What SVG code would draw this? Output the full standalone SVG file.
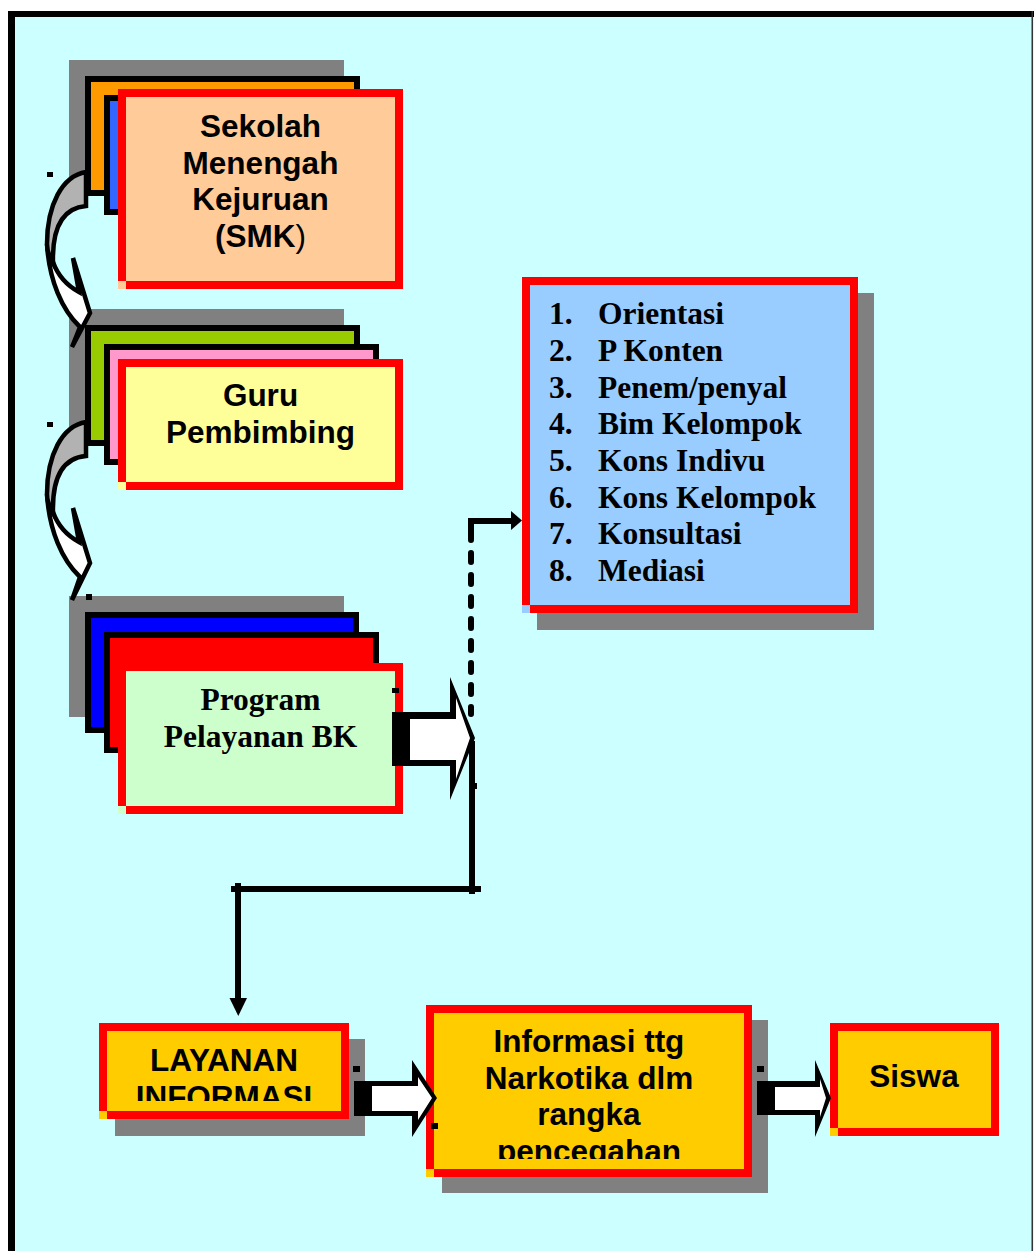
<svg xmlns="http://www.w3.org/2000/svg" width="1034" height="1251" viewBox="0 0 1034 1251">
<defs>
<style>
.bg{fill:#CCFFFF}
.blk{fill:#000}
.shadow{fill:#808080}
.back{stroke:#000;stroke-width:6}
.red{fill:#FF0000}
.ta{font-family:"Liberation Sans",Arial,sans-serif;font-weight:bold;font-size:31.5px;text-anchor:middle;fill:#000}
.tt{font-family:"Liberation Serif","Times New Roman",serif;font-weight:bold;font-size:31.5px;fill:#000}
.cg{fill:#B2B2B2;stroke:#000;stroke-width:4.5;stroke-linejoin:miter}
.cw{fill:#FFFFFF;stroke:#000;stroke-width:4.5;stroke-linejoin:miter}
.ln{stroke:#000;stroke-width:6;fill:none}
.dash{stroke:#000;stroke-width:6;fill:none;stroke-dasharray:9 13;stroke-linecap:round}
.white{fill:#FFFFFF}
</style>
<clipPath id="clipLay"><rect x="99" y="1023" width="250" height="78"/></clipPath>
<clipPath id="clipInf"><rect x="426" y="1005" width="326" height="154"/></clipPath>
</defs>

<g id="frame">
<rect class="bg" x="8" y="11" width="1026" height="1240"/>
<rect class="blk" x="8" y="11" width="1026" height="6"/>
<rect class="blk" x="8" y="11" width="7" height="1240"/>
<rect fill="#333" x="1031.5" y="11" width="1.5" height="1240"/>
</g>

<g id="smk">
<rect class="shadow" x="69" y="60" width="275" height="121"/>
<rect class="back" fill="#FF9900" x="88" y="79" width="269" height="114"/>
<rect class="back" fill="#3366FF" x="107" y="98" width="269" height="114"/>
<rect class="red" x="118" y="89" width="285" height="200"/>
<rect fill="#FFCC99" x="126" y="97" width="269" height="184"/>
<rect fill="#FFCC99" x="118" y="281" width="8" height="8"/>
<text class="ta" x="260.5" y="137">Sekolah</text>
<text class="ta" x="260.5" y="173.7">Menengah</text>
<text class="ta" x="260.5" y="210.3">Kejuruan</text>
<text class="ta" x="260.5" y="247">(SMK<tspan font-weight="normal">)</tspan></text>
</g>

<g id="guru">
<rect class="shadow" x="69" y="309" width="275" height="121"/>
<rect class="back" fill="#99CC00" x="88" y="328" width="269" height="115"/>
<rect class="back" fill="#FF99CC" x="107" y="347" width="269" height="115"/>
<rect class="red" x="118" y="359" width="285" height="131"/>
<rect fill="#FFFF99" x="126" y="367" width="269" height="115"/>
<rect fill="#FFFF99" x="118" y="482" width="8" height="8"/>
<text class="ta" x="260.5" y="406">Guru</text>
<text class="ta" x="260.5" y="442.7">Pembimbing</text>
</g>

<g id="program">
<rect class="shadow" x="69" y="596" width="275" height="121"/>
<rect class="back" fill="#0000FF" x="88" y="615" width="268" height="115"/>
<rect class="back" fill="#FF0000" x="107" y="635" width="269" height="115"/>
<rect class="red" x="118" y="663" width="285" height="151"/>
<rect fill="#CCFFCC" x="126" y="671" width="269" height="135"/>
<rect fill="#CCFFCC" x="118" y="806" width="8" height="8"/>
<text class="tt" x="260.5" y="710" text-anchor="middle">Program</text>
<text class="tt" x="260.5" y="746.7" text-anchor="middle">Pelayanan BK</text>
</g>

<g id="list">
<rect class="shadow" x="537" y="293" width="337" height="337"/>
<rect class="red" x="522" y="277" width="336" height="336"/>
<rect fill="#99CCFF" x="530" y="285" width="320" height="320"/>
<rect fill="#99CCFF" x="522" y="605" width="8" height="8"/>
<g class="tt" font-size="32px">
<text x="549" y="324.3">1.</text><text x="598" y="324.3">Orientasi</text>
<text x="549" y="361">2.</text><text x="598" y="361">P Konten</text>
<text x="549" y="397.7">3.</text><text x="598" y="397.7">Penem/penyal</text>
<text x="549" y="434.3">4.</text><text x="598" y="434.3">Bim Kelompok</text>
<text x="549" y="471">5.</text><text x="598" y="471">Kons Indivu</text>
<text x="549" y="507.7">6.</text><text x="598" y="507.7">Kons Kelompok</text>
<text x="549" y="544.3">7.</text><text x="598" y="544.3">Konsultasi</text>
<text x="549" y="581">8.</text><text x="598" y="581">Mediasi</text>
</g>
</g>

<g id="layanan">
<rect class="shadow" x="115" y="1039" width="250" height="97"/>
<rect class="red" x="99" y="1023" width="250" height="96"/>
<rect fill="#FFCC00" x="107" y="1031" width="234" height="80"/>
<rect fill="#FFCC00" x="99" y="1111" width="8" height="8"/>
<g clip-path="url(#clipLay)">
<text class="ta" x="224" y="1071">LAYANAN</text>
<text class="ta" x="224" y="1107.5">INFORMASI</text>
</g>
</g>

<g id="informasi">
<rect class="shadow" x="442" y="1020" width="326" height="173"/>
<rect class="red" x="426" y="1005" width="326" height="172"/>
<rect fill="#FFCC00" x="434" y="1013" width="310" height="156"/>
<rect fill="#FFCC00" x="426" y="1169" width="8" height="8"/>
<g clip-path="url(#clipInf)">
<text class="ta" x="589" y="1052">Informasi ttg</text>
<text class="ta" x="589" y="1088.5">Narkotika dlm</text>
<text class="ta" x="589" y="1125">rangka</text>
<text class="ta" x="589" y="1161.5">pencegahan</text>
</g>
</g>

<g id="siswa">
<rect class="red" x="830" y="1023" width="169" height="113"/>
<rect fill="#FFCC00" x="838" y="1031" width="153" height="97"/>
<rect fill="#FFCC00" x="830" y="1128" width="8" height="8"/>
<text class="ta" x="914" y="1087">Siswa</text>
</g>

<g id="connectors">
<g id="curve1">
<path class="cw" d="M47,244 C49,280 62,310 80,327 L72,347 L90,313 L73,258 L79,292 C68,286 58,276 53,262 Z"/>
<path class="cg" d="M86,172 C62,176 47,205 47,244 C47,252 50,258 53,263 C52,228 62,208 86,206 Z"/>
</g>
<g id="curve2" transform="translate(0,250)">
<path class="cw" d="M47,244 C49,280 62,310 80,327 L72,350 L90,313 L73,258 L79,292 C68,286 58,276 53,262 Z"/>
<path class="cg" d="M86,172 C62,176 47,205 47,244 C47,252 50,258 53,263 C52,228 62,208 86,206 Z"/>
</g>
<g id="arrowProgram">
<polygon class="blk" points="392,712 450,712 450,677 475,738 450,800 450,766 392,766"/>
<polygon class="white" points="410,719 456,719 456,698 470,738 456,779 456,760 410,760"/>
</g>
<g id="elbowUp">
<path class="dash" d="M471,531 L471,714"/>
<path class="ln" d="M471,532 L471,521 L512,521" stroke-width="5"/>
<polygon class="blk" points="511,511 511,530 522,520.5"/>
</g>
<g id="elbowDown">
<path class="ln" d="M472,741 L472,894"/>
<path class="ln" d="M231,889 L481,889"/>
<path class="ln" d="M238,883 L238,1000"/>
<polygon class="blk" points="229.5,998 247,998 238.3,1016"/>
</g>
<g id="arrowLayanan">
<polygon class="blk" points="354,1081 412,1081 412,1060 437,1098 412,1137 412,1116 354,1116"/>
<polygon class="white" points="372,1086 418,1086 418,1077 432,1098 418,1120 418,1111 372,1111"/>
</g>
<g id="arrowSiswa">
<polygon class="blk" points="757,1081 815,1081 815,1060 831,1098 815,1137 815,1115 757,1115"/>
<polygon class="white" points="775,1087 820,1087 820,1079 826,1098 820,1117 820,1110 775,1110"/>
</g>
</g>

<g id="marks" class="blk">
<rect x="47" y="172" width="6" height="5"/>
<rect x="47" y="422" width="6" height="5"/>
<rect x="86" y="594" width="6" height="6"/>
<rect x="392" y="688" width="7" height="5"/>
<rect x="470" y="783" width="7" height="6"/>
<rect x="353" y="1066" width="7" height="6"/>
<rect x="431" y="1123" width="7" height="6"/>
<rect x="757" y="1066" width="7" height="6"/>
</g>
</svg>
